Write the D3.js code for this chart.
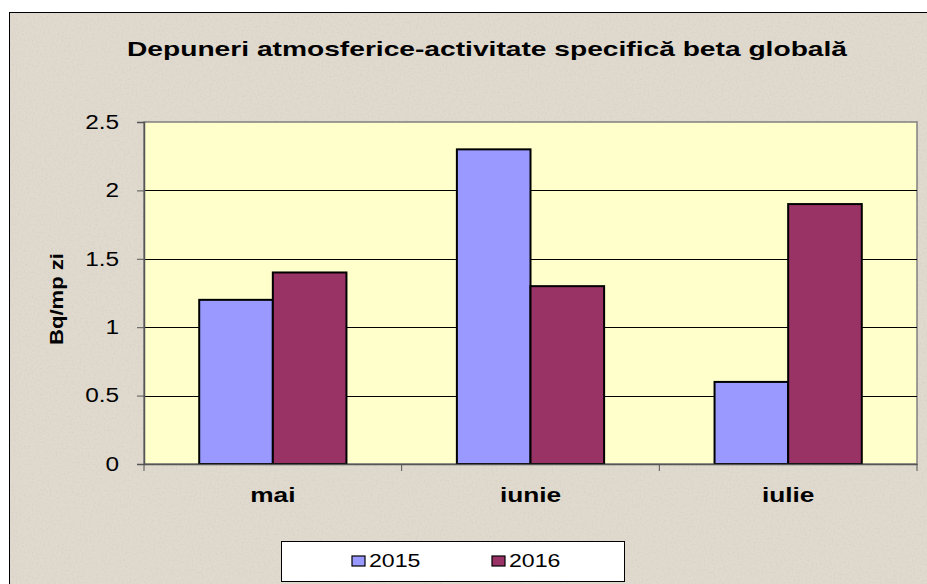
<!DOCTYPE html>
<html>
<head>
<meta charset="utf-8">
<script src="https://cdn.jsdelivr.net/npm/d3@7"></script>
<style>
  html, body { margin: 0; padding: 0; background: #fff; }
  svg { display: block; font-family: "Liberation Sans", Arial, sans-serif; }
</style>
</head>
<body>
<div id="chart"></div>
<script>
const categories = ["mai", "iunie", "iulie"];
const seriesNames = ["2015", "2016"];
const values2015 = [1.2, 2.3, 0.6];
const values2016 = [1.4, 1.3, 1.9];
const yTicks = [0, 0.5, 1, 1.5, 2, 2.5];

const width = 927, height = 584;
const plot = { left: 144, top: 122, right: 917, bottom: 464 };
const colors = { "2015": "#9999FF", "2016": "#993366" };
const stretchX = 1.25; // the original picture is a bit wider than tall

const svg = d3.select("#chart").append("svg")
    .attr("width", width)
    .attr("height", height);

// widen text the same way the source image is widened
function stretch(sel, f) {
  sel.each(function() {
    const len = this.getComputedTextLength();
    d3.select(this).attr("textLength", len * f).attr("lengthAdjust", "spacingAndGlyphs");
  });
}

// speckled stone background
const defs = svg.append("defs");
const filt = defs.append("filter").attr("id", "speckle")
    .attr("x", 0).attr("y", 0).attr("width", "100%").attr("height", "100%");
filt.append("feTurbulence")
    .attr("type", "fractalNoise")
    .attr("baseFrequency", 0.5)
    .attr("numOctaves", 2)
    .attr("seed", 4)
    .attr("result", "noise");
filt.append("feColorMatrix")
    .attr("in", "noise")
    .attr("type", "matrix")
    .attr("values", "0 0 0 0 0.55  0 0 0 0 0.52  0 0 0 0 0.48  0 0 0 -1.8 0.95")
    .attr("result", "spots");
filt.append("feComposite").attr("in", "spots").attr("in2", "SourceGraphic").attr("operator", "atop");

svg.append("rect")
    .attr("x", 9.5).attr("y", 12.5)
    .attr("width", width).attr("height", height)
    .attr("fill", "#E0D9CE")
    .attr("stroke", "#000")
    .attr("stroke-width", 1);
svg.append("rect")
    .attr("x", 10).attr("y", 13)
    .attr("width", width).attr("height", height)
    .attr("fill", "#E0D9CE")
    .attr("filter", "url(#speckle)")
    .attr("opacity", 0.4);

// title
svg.append("text")
    .attr("x", 487)
    .attr("y", 55.5)
    .attr("text-anchor", "middle")
    .style("font-size", "20.5px")
    .style("font-weight", "bold")
    .attr("fill", "#000")
    .attr("textLength", 720)
    .attr("lengthAdjust", "spacingAndGlyphs")
    .text("Depuneri atmosferice-activitate specifică beta globală");

// scales
const x0 = d3.scaleBand()
    .domain(categories)
    .range([plot.left, plot.right])
    .paddingInner(0)
    .paddingOuter(0);

// Excel gap width 150%: two bars plus 1.5 bar widths of gap per category
const x1 = d3.scaleBand()
    .domain(seriesNames)
    .range([0, x0.bandwidth()])
    .paddingInner(0)
    .paddingOuter(0.75);

const y = d3.scaleLinear()
    .domain([0, 2.5])
    .range([plot.bottom, plot.top]);

// plot area
svg.append("rect")
    .attr("x", plot.left)
    .attr("y", plot.top)
    .attr("width", plot.right - plot.left)
    .attr("height", plot.bottom - plot.top)
    .attr("fill", "#FFFFCC")
    .attr("stroke", "#808080")
    .attr("stroke-width", 1.5);

// gridlines
svg.append("g")
  .selectAll("line")
  .data(yTicks.filter(d => d > 0 && d < 2.5))
  .join("line")
    .attr("x1", plot.left)
    .attr("x2", plot.right)
    .attr("y1", d => Math.round(y(d)) + 0.5)
    .attr("y2", d => Math.round(y(d)) + 0.5)
    .attr("stroke", "#000")
    .attr("stroke-width", 1);

// bars
const data = categories.map((c, i) => ({
  cat: c,
  vals: [
    { key: "2015", value: values2015[i] },
    { key: "2016", value: values2016[i] }
  ]
}));

svg.append("g")
  .selectAll("g")
  .data(data)
  .join("g")
    .attr("transform", d => `translate(${x0(d.cat)},0)`)
  .selectAll("rect")
  .data(d => d.vals)
  .join("rect")
    .attr("x", d => x1(d.key))
    .attr("y", d => y(d.value))
    .attr("width", x1.bandwidth())
    .attr("height", d => y(0) - y(d.value))
    .attr("fill", d => colors[d.key])
    .attr("stroke", "#000")
    .attr("stroke-width", 2);

// y axis
const yAxis = svg.append("g")
    .attr("transform", `translate(${plot.left},0)`)
    .call(d3.axisLeft(y).tickValues(yTicks).tickSize(7).tickPadding(18)
      .tickFormat(d => d3.format("")(d)));
yAxis.select(".domain").attr("stroke", "#555").attr("stroke-width", 1.5);
yAxis.selectAll(".tick line").attr("stroke", "#555");
yAxis.selectAll(".tick text")
    .style("font-size", "19.5px")
    .attr("fill", "#000")
    .call(stretch, stretchX);

// x axis
const xAxis = svg.append("g")
    .attr("transform", `translate(0,${plot.bottom})`)
    .call(d3.axisBottom(x0).tickSize(0).tickPadding(23));
xAxis.select(".domain").attr("stroke", "#555").attr("stroke-width", 1.5);
xAxis.selectAll(".tick text")
    .style("font-size", "21px")
    .style("font-weight", "bold")
    .attr("fill", "#000")
    .call(stretch, stretchX);

// category boundary ticks
svg.append("g")
  .selectAll("line")
  .data(d3.range(categories.length + 1))
  .join("line")
    .attr("x1", i => plot.left + i * x0.bandwidth())
    .attr("x2", i => plot.left + i * x0.bandwidth())
    .attr("y1", plot.bottom)
    .attr("y2", plot.bottom + 7)
    .attr("stroke", "#555")
    .attr("stroke-width", 1);

// y axis title
svg.append("text")
    .attr("transform", "translate(63,299) rotate(-90)")
    .attr("text-anchor", "middle")
    .style("font-size", "19px")
    .style("font-weight", "bold")
    .attr("fill", "#000")
    .attr("textLength", 92)
    .attr("lengthAdjust", "spacingAndGlyphs")
    .text("Bq/mp zi");

// legend
const legend = svg.append("g");
legend.append("rect")
    .attr("x", 281.5)
    .attr("y", 541.5)
    .attr("width", 343)
    .attr("height", 40)
    .attr("fill", "#fff")
    .attr("stroke", "#000")
    .attr("stroke-width", 1);

const legendX = d3.scalePoint().domain(seriesNames).range([352, 492]);
const item = legend.selectAll("g.item")
  .data(seriesNames)
  .join("g")
    .attr("class", "item")
    .attr("transform", d => `translate(${legendX(d)},561)`);
item.append("rect")
    .attr("x", 0)
    .attr("y", -5)
    .attr("width", 13)
    .attr("height", 10)
    .attr("fill", d => colors[d])
    .attr("stroke", "#000")
    .attr("stroke-width", 1.2);
item.append("text")
    .attr("x", 17)
    .attr("y", 6)
    .style("font-size", "18.5px")
    .attr("fill", "#000")
    .text(d => d)
    .call(stretch, stretchX);
</script>
</body>
</html>
